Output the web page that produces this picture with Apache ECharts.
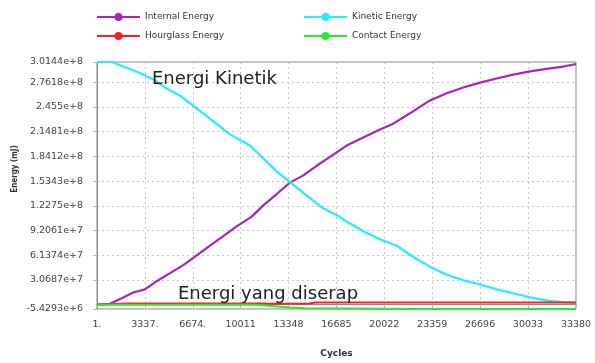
<!DOCTYPE html>
<html><head><meta charset="utf-8">
<script src="https://cdn.jsdelivr.net/npm/echarts@6/dist/echarts.min.js"></script>
<style>html,body{margin:0;padding:0;background:#fff}#c{width:595px;height:363px}</style>
</head><body><div id="c"></div>
<script>
const xTickValues = [1, 3337, 6674, 10011, 13348, 16685, 20022, 23359, 26696, 30033, 33380];
const xTickLabels = ['1.', '3337.', '6674.', '10011', '13348', '16685', '20022', '23359', '26696', '30033', '33380'];
const yTickValues = [-5.4293e6, 3.0687e7, 6.1374e7, 9.2061e7, 1.2275e8, 1.5343e8, 1.8412e8, 2.1481e8, 2.455e8, 2.7618e8, 3.0144e8];
const yTickLabels = ['-5.4293e+6', '3.0687e+7', '6.1374e+7', '9.2061e+7', '1.2275e+8', '1.5343e+8', '1.8412e+8', '2.1481e+8', '2.455e+8', '2.7618e+8', '3.0144e+8'];

const seriesNames = ['Internal Energy', 'Kinetic Energy', 'Hourglass Energy', 'Contact Energy'];

const internalCycles = [1, 906, 1833, 2530, 3345, 4160, 5093, 6014, 6948, 7874, 8801, 9735, 10780, 11589, 12523, 13449, 14376, 15310, 16237, 17400, 18557, 19721, 20648, 21811, 23205, 24368, 25526, 26689, 27853, 29010, 30174, 31337, 32494, 33380];
const internalValues = [0, 1.0e6, 9.0e6, 1.50e7, 1.90e7, 2.91e7, 3.91e7, 4.91e7, 6.11e7, 7.32e7, 8.52e7, 9.72e7, 1.093e8, 1.233e8, 1.374e8, 1.516e8, 1.606e8, 1.725e8, 1.835e8, 1.976e8, 2.076e8, 2.176e8, 2.248e8, 2.377e8, 2.537e8, 2.626e8, 2.698e8, 2.758e8, 2.810e8, 2.858e8, 2.898e8, 2.930e8, 2.958e8, 2.987e8];

const kineticCycles = [1, 1045, 1833, 2996, 3923, 4739, 5784, 6948, 8104, 9268, 10662, 11588, 12523, 13449, 14613, 15770, 16933, 17400, 18557, 19721, 20885, 22041, 23205, 24368, 25526, 26689, 27853, 29010, 30174, 31337, 32494, 33380];
const kineticValues = [3.0144e8, 3.0144e8, 2.958e8, 2.878e8, 2.798e8, 2.698e8, 2.597e8, 2.437e8, 2.277e8, 2.115e8, 1.976e8, 1.815e8, 1.655e8, 1.522e8, 1.354e8, 1.197e8, 1.089e8, 1.032e8, 9.12e7, 8.12e7, 7.32e7, 5.92e7, 4.72e7, 3.71e7, 3.03e7, 2.50e7, 1.90e7, 1.42e7, 9.0e6, 5.0e6, 3.0e6, 2.2e6];

const hourglassCycles = [1, 1200, 2000, 11500, 12000, 14800, 15200, 33380];
const hourglassValues = [0, 0.8e6, 1.3e6, 1.3e6, 1.1e6, 1.3e6, 2.6e6, 2.6e6];

const contactCycles = [1, 11000, 12000, 13500, 14500, 20000, 22000, 33380];
const contactValues = [0, -0.3e6, -1.5e6, -3.5e6, -4.5e6, -5.2e6, -5.4e6, -5.4293e6];

const colors = ['#b01fc0', '#22eeff', '#ff1e1e', '#22ee22'];

function zip(a, b) { return a.map((v, i) => [v, b[i]]); }
function lookup(vals, labels, v) {
  for (let i = 0; i < vals.length; i++) {
    if (Math.abs(vals[i] - v) <= Math.abs(vals[i]) * 1e-6 + 1e-9) return labels[i];
  }
  return '';
}

const font = 'DejaVu Sans';
const chart = echarts.init(document.getElementById('c'), null, {renderer: 'canvas'});

const mk = (i, cyc, val, w) => ({
  name: seriesNames[i], type: 'line', data: zip(cyc, val),
  symbol: 'circle', symbolSize: 7, showSymbol: false,
  lineStyle: {color: colors[i], width: w}, itemStyle: {color: colors[i]},
  smooth: false, animation: false, z: 3 + i
});

const legendText = {fontFamily: font, fontSize: 9, color: '#333'};

chart.setOption({
  animation: false,
  backgroundColor: '#fff',
  grid: {left: 97, right: 19, top: 62, bottom: 46, show: true, borderColor: '#8a8a8a', borderWidth: 1, backgroundColor: 'transparent'},
  legend: [
    {orient: 'vertical', left: 91, top: 7.5, padding: 5, itemWidth: 43, itemHeight: 10, itemGap: 10,
     data: ['Internal Energy', 'Hourglass Energy'], textStyle: legendText},
    {orient: 'vertical', left: 298, top: 7.5, padding: 5, itemWidth: 43, itemHeight: 10, itemGap: 10,
     data: ['Kinetic Energy', 'Contact Energy'], textStyle: legendText}
  ],
  xAxis: {
    type: 'value', min: 1, max: 33380,
    name: 'Cycles', nameLocation: 'middle', nameGap: 40,
    nameTextStyle: {fontFamily: font, fontSize: 9, fontWeight: 'bold', color: '#333'},
    axisLine: {show: true, lineStyle: {color: '#8a8a8a', width: 1}},
    axisTick: {show: true, customValues: xTickValues, length: 3, lineStyle: {color: '#bbb'}},
    axisLabel: {customValues: xTickValues, margin: 11, fontFamily: font, fontSize: 9.5, color: '#444',
      formatter: v => lookup(xTickValues, xTickLabels, v)},
    splitLine: {show: true, showMinLine: false, showMaxLine: false, lineStyle: {color: '#c8c8c8', type: [2, 3], width: 1}}
  },
  yAxis: {
    type: 'value', min: -5.4293e6, max: 3.0144e8,
    axisLine: {show: true, lineStyle: {color: '#8a8a8a', width: 1}},
    axisTick: {show: true, customValues: yTickValues, length: 4, lineStyle: {color: '#bbb'}},
    axisLabel: {customValues: yTickValues, margin: 14, fontFamily: font, fontSize: 9.5, color: '#444',
      formatter: v => lookup(yTickValues, yTickLabels, v)},
    splitLine: {show: true, showMinLine: false, showMaxLine: false, lineStyle: {color: '#c8c8c8', type: [2, 3], width: 1}}
  },
  graphic: [
    {type: 'text', x: 15, y: 169, rotation: Math.PI / 2,
     style: {text: 'Energy (mJ)', fontFamily: '"DejaVu Sans Condensed", "Liberation Sans Narrow", "DejaVu Sans"', fontSize: 8, fontWeight: 'bold', fill: '#333', textAlign: 'center', textVerticalAlign: 'middle'}},
    {type: 'text', x: 152, y: 79, z: 10,
     style: {text: 'Energi Kinetik', fontFamily: font, fontSize: 18, fill: '#222', textAlign: 'left', textVerticalAlign: 'middle'}},
    {type: 'text', x: 178, y: 294, z: 10,
     style: {text: 'Energi yang diserap', fontFamily: font, fontSize: 18, fill: '#222', textAlign: 'left', textVerticalAlign: 'middle'}}
  ],
  series: [
    mk(0, internalCycles, internalValues, 2.2),
    mk(1, kineticCycles, kineticValues, 2.2),
    mk(2, hourglassCycles, hourglassValues, 2),
    mk(3, contactCycles, contactValues, 2)
  ]
});
</script></body></html>
